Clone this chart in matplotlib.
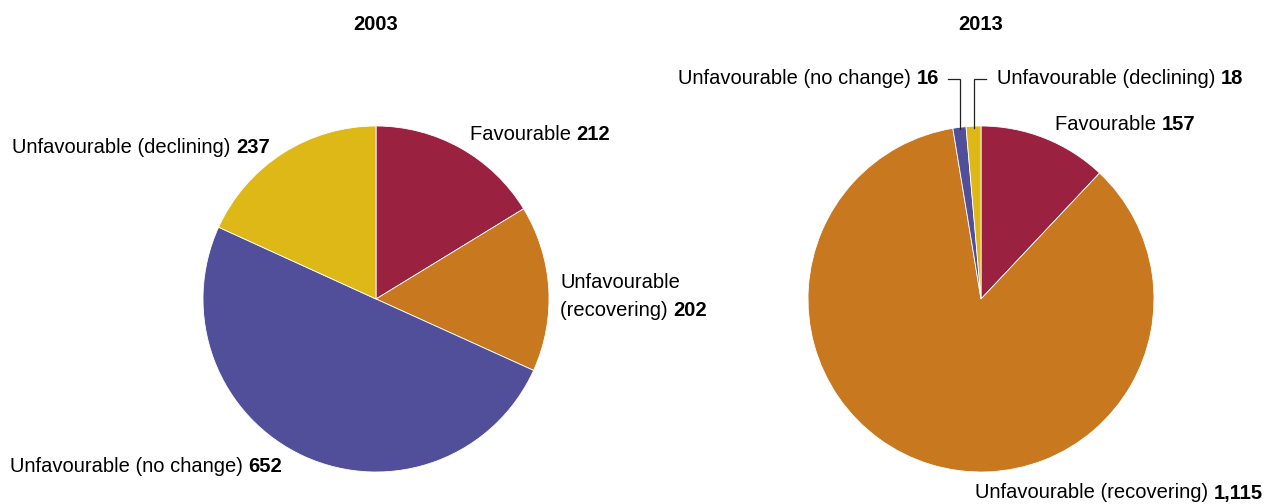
import numpy as np
import matplotlib
matplotlib.use("Agg")
import matplotlib.pyplot as plt

plt.rcParams['font.family'] = ['Liberation Sans', 'DejaVu Sans']

# data
categories = ["Favourable", "Unfavourable (recovering)", "Unfavourable (no change)", "Unfavourable (declining)"]
values_2003 = [212, 202, 652, 237]
values_2013 = [157, 1115, 16, 18]
years = ["2003", "2013"]
colors = ["#9B2141", "#C8781F", "#524F9A", "#DEB816"]

W, H = 1267, 504
fig = plt.figure(figsize=(W / 100, H / 100), dpi=100)

R = 173  # pie radius in px
centres = [(376, 299), (981, 299)]
FS = 14.5


def fx(px):
    return px / W


def fy(py):
    return 1 - py / H


axes = []
for (cx, cy), vals, yr in zip(centres, [values_2003, values_2013], years):
    ax = fig.add_axes([fx(cx - R), fy(cy + R), 2 * R / W, 2 * R / H])
    ax.pie(vals, colors=colors, startangle=90, counterclock=False, radius=1,
           wedgeprops=dict(edgecolor="white", linewidth=0.6))
    ax.set_xlim(-1, 1)
    ax.set_ylim(-1, 1)
    ax.set_aspect("equal")
    ax.axis("off")
    fig.text(fx(cx), fy(24), yr, ha="center", va="center", fontsize=FS, fontweight="bold")
    axes.append(ax)


def label(px, py, name, num, align="left"):
    # normal text followed by bold number
    if align == "left":
        t = fig.text(fx(px), fy(py), name + " ", ha="left", va="center", fontsize=FS)
        plt.annotate(num, xy=(1, 0.5), xycoords=t, ha="left", va="center",
                     fontsize=FS, fontweight="bold")
    else:
        b = fig.text(fx(px), fy(py), num, ha="right", va="center", fontsize=FS, fontweight="bold")
        plt.annotate(name + " ", xy=(0, 0.5), xycoords=b, ha="right", va="center",
                     fontsize=FS)


# 2003 labels
label(470, 135, categories[0], str(values_2003[0]))
fig.text(fx(560), fy(283), "Unfavourable", ha="left", va="center", fontsize=FS)
label(560, 310, "(recovering)", str(values_2003[1]))
label(10, 466, categories[2], str(values_2003[2]))
label(12, 147, categories[3], str(values_2003[3]))

# 2013 labels
label(1055, 124, categories[0], str(values_2013[0]))
label(975, 493, categories[1], f"{values_2013[1]:,}")
label(939, 79, categories[2], str(values_2013[2]), align="right")
label(997, 79, categories[3], str(values_2013[3]))

# leader lines for the small 2013 slices
ax = axes[1]
total = sum(values_2013)
cum = np.cumsum([0] + values_2013)
line_y = (centres[1][1] - 79) / R
ends = {2: -0.19, 3: 0.03}
for i in (2, 3):
    frac = (cum[i] + cum[i + 1]) / 2 / total
    ang = np.deg2rad(90 - frac * 360)
    x0, y0 = np.cos(ang) * 0.99, np.sin(ang) * 0.99
    ax.plot([x0, x0, ends[i]], [y0, line_y, line_y], color="#222222", lw=0.9,
            clip_on=False, solid_joinstyle="miter")

fig.savefig("out.png", dpi=100)
